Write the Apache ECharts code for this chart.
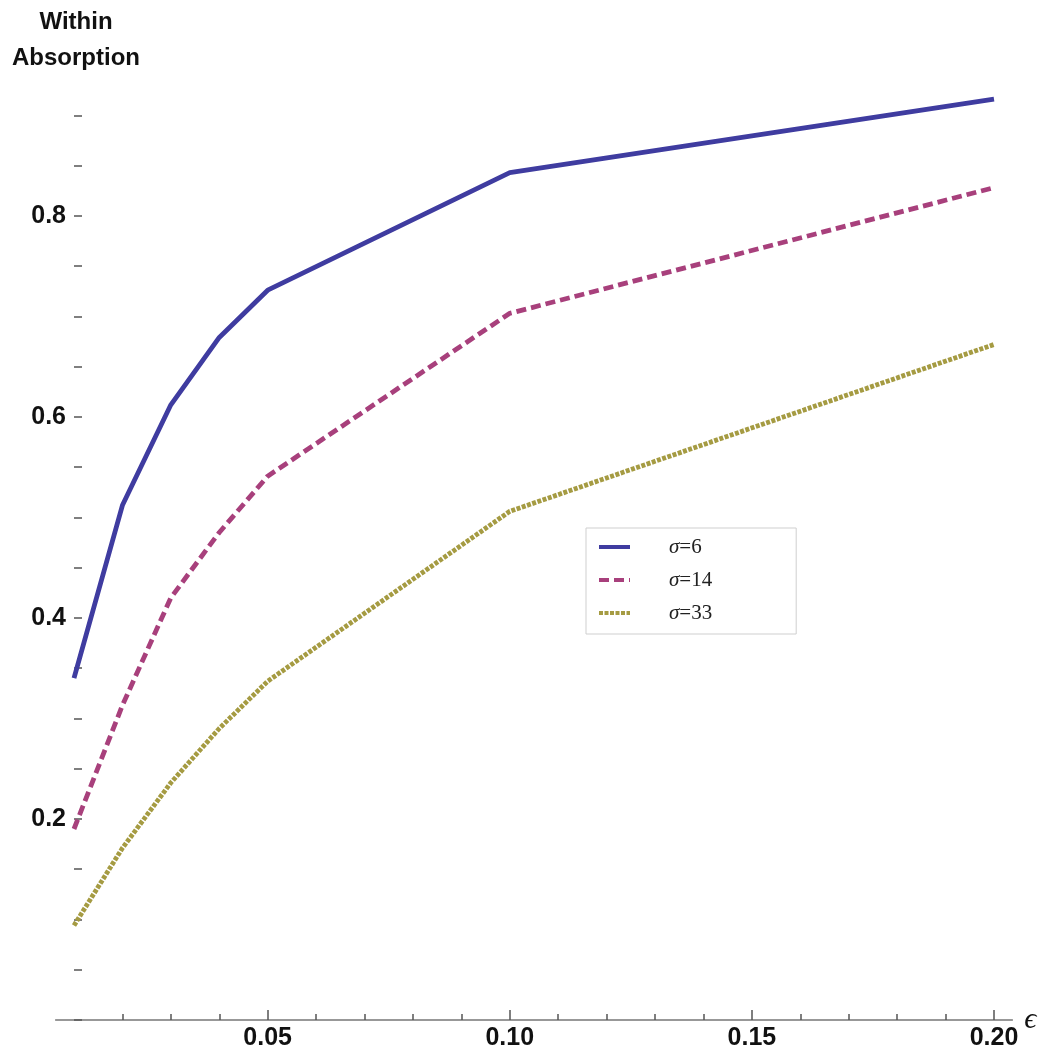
<!DOCTYPE html>
<html>
<head>
<meta charset="utf-8">
<script src="https://cdn.jsdelivr.net/npm/echarts@6/dist/echarts.min.js"></script>
<style>
html,body{margin:0;padding:0;background:#fff;}
#chart{width:1042px;height:1055px;}
</style>
</head>
<body>
<div id="chart"></div>
<script>
// ---- data ----
const epsilon = [0.01, 0.02, 0.03, 0.04, 0.05, 0.10, 0.20];
const sigma6  = [0.340, 0.512, 0.612, 0.679, 0.726, 0.843, 0.916];
const sigma14 = [0.190, 0.313, 0.420, 0.485, 0.541, 0.703, 0.828];
const sigma33 = [0.094, 0.171, 0.236, 0.290, 0.337, 0.506, 0.672];
const seriesNames = ['σ=6', 'σ=14', 'σ=33'];
const xMajorTicks = [0.05, 0.10, 0.15, 0.20];
const xMinorTicks = [0.02, 0.03, 0.04, 0.06, 0.07, 0.08, 0.09, 0.11, 0.12, 0.13, 0.14, 0.16, 0.17, 0.18, 0.19];
const yTicks = [0, 0.05, 0.1, 0.15, 0.2, 0.25, 0.3, 0.35, 0.4, 0.45, 0.5, 0.55, 0.6, 0.65, 0.7, 0.75, 0.8, 0.85, 0.9];
const yLabels = [0.2, 0.4, 0.6, 0.8];

const colors = ['#3f3ca0', '#a8407c', '#a59b42'];
const lineTypes = ['solid', [10, 5], [4, 1.5]];
const seriesData = [sigma6, sigma14, sigma33];

const chart = echarts.init(document.getElementById('chart'));
const labelFont = {fontFamily: 'Liberation Sans', fontWeight: 'bold', fontSize: 25, color: '#111'};

const xAxisBase = {
  type: 'value', min: 0.0062, max: 0.2038, position: 'bottom',
  splitLine: {show: false}, gridIndex: 0
};

const option = {
  animation: false,
  backgroundColor: '#fff',
  grid: {left: 55.6, right: 29.6, top: 65, bottom: 35, containLabel: false},
  graphic: [{
    type: 'text', x: 76, y: 4,
    style: {text: 'Within\nAbsorption', textAlign: 'center', fill: '#111',
      font: 'bold 24px "Liberation Sans"', lineHeight: 36}
  }],
  xAxis: [
    Object.assign({}, xAxisBase, {
      axisLine: {show: true, lineStyle: {color: '#777', width: 1.5}},
      axisTick: {show: true, inside: true, length: 10, customValues: xMajorTicks, lineStyle: {color: '#555', width: 1.5}},
      axisLabel: Object.assign({show: true, margin: 6, customValues: xMajorTicks,
        formatter: v => v.toFixed(2)}, labelFont),
      name: 'ϵ', nameLocation: 'end', nameGap: 10,
      nameTextStyle: {fontFamily: 'Liberation Serif', fontStyle: 'italic', fontSize: 30, color: '#111', verticalAlign: 'middle'}
    }),
    Object.assign({}, xAxisBase, {
      axisLine: {show: false},
      axisTick: {show: true, inside: true, length: 6, customValues: xMinorTicks, lineStyle: {color: '#555', width: 1.5}},
      axisLabel: {show: false}
    })
  ],
  yAxis: {
    type: 'value', min: 0, max: 0.95, offset: -18.4,
    splitLine: {show: false},
    axisLine: {show: false},
    axisTick: {show: true, inside: true, length: 8, customValues: yTicks, lineStyle: {color: '#555', width: 1.5}},
    axisLabel: Object.assign({show: true, margin: 8, customValues: yLabels,
      formatter: v => v.toFixed(1)}, labelFont)
  },
  legend: {
    orient: 'vertical', left: 586, top: 528,
    padding: [7, 84, 9, 11],
    itemGap: 9, itemWidth: 31, itemHeight: 14,
    backgroundColor: '#fff', borderColor: '#cfcfcf', borderWidth: 1,
    data: seriesNames,
    itemStyle: {color: 'rgba(0,0,0,0)', borderWidth: 0, opacity: 0},
    lineStyle: {width: 4, cap: 'butt'},
    formatter: name => '{s|' + name.charAt(0) + '}{n|' + name.slice(1) + '}',
    textStyle: {
      padding: [0, 0, 0, 34], lineHeight: 24,
      rich: {
        s: {fontFamily: 'Liberation Serif', fontStyle: 'italic', fontSize: 21, color: '#222', lineHeight: 24},
        n: {fontFamily: 'Liberation Serif', fontSize: 21, color: '#222', lineHeight: 24}
      }
    }
  },
  series: seriesNames.map((name, i) => ({
    name: name,
    type: 'line',
    xAxisIndex: 0,
    data: epsilon.map((x, j) => [x, seriesData[i][j]]),
    showSymbol: false, symbol: 'none',
    smooth: false,
    itemStyle: {color: colors[i]},
    lineStyle: {color: colors[i], width: 4.8, type: lineTypes[i], cap: 'butt'}
  }))
};
chart.setOption(option);
</script>
</body>
</html>
